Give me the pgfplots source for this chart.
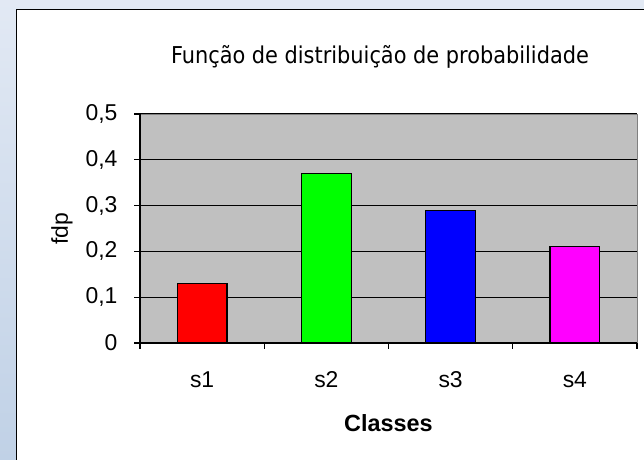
\documentclass[border=0pt]{standalone}
\usepackage{pgfplots}
\pgfplotsset{compat=1.18}
\usepackage{fontspec}
\setmainfont{Liberation Sans}
\newfontfamily\titlefont{DejaVu Sans Condensed}
\begin{document}
\begin{tikzpicture}[x=1bp,y=1bp]
\useasboundingbox (0,0) rectangle (644,460);
\shade[top color={rgb,255:red,226;green,233;blue,244}, bottom color={rgb,255:red,192;green,209;blue,230}] (0,0) rectangle (644,460);
\fill[white] (16.5,-5) rectangle (650,450.5);
\draw[black, line width=1.5bp] (16.5,-5) rectangle (650,450.5);
\begin{axis}[
  at={(140bp,117bp)}, anchor=south west,
  scale only axis, width=497bp, height=229bp,
  xmin=-0.5, xmax=3.5, ymin=0, ymax=0.5,
  axis background/.style={fill={rgb,255:red,192;green,192;blue,192}, draw={rgb,255:red,128;green,128;blue,128}},
  axis x line*=bottom, axis y line*=left,
  axis line style={black, line width=1.2bp},
  ymajorgrids, grid style={black, line width=1bp},
  ytick={0,0.1,0.2,0.3,0.4,0.5},
  yticklabels={0,{0,1},{0,2},{0,3},{0,4},{0,5}},
  xtick={-0.5,0.5,1.5,2.5,3.5},
  xticklabels={},
  extra x ticks={0,1,2,3},
  extra x tick labels={s1,s2,s3,s4},
  extra x tick style={tick style={draw=none}, xticklabel style={anchor=north, yshift=-19bp}},
  tick align=outside,
  major tick length=6bp,
  tick style={black, line width=1.2bp},
  tick label style={font=\fontsize{23}{27}\selectfont},
  yticklabel style={xshift=-13bp},
  xlabel={\textbf{Classes}},
  xlabel style={at={(axis description cs:0.5,-0.349)}, anchor=center, font=\fontsize{23.5}{27}\selectfont},
  ylabel={fdp},
  ylabel style={at={(axis description cs:-0.157,0.5)}, anchor=center, font=\fontsize{23}{27}\selectfont},
]
\addplot[ybar, bar width=0.4, bar shift=0pt, fill={rgb,255:red,255;green,0;blue,0}, draw=black, line width=1.2bp] coordinates {(0,0.13)};
\addplot[ybar, bar width=0.4, bar shift=0pt, fill={rgb,255:red,0;green,255;blue,0}, draw=black, line width=1.2bp] coordinates {(1,0.37)};
\addplot[ybar, bar width=0.4, bar shift=0pt, fill={rgb,255:red,0;green,0;blue,255}, draw=black, line width=1.2bp] coordinates {(2,0.29)};
\addplot[ybar, bar width=0.4, bar shift=0pt, fill={rgb,255:red,255;green,0;blue,255}, draw=black, line width=1.2bp] coordinates {(3,0.21)};
\end{axis}
\node[font=\titlefont\fontsize{23.3}{27}\selectfont] at (380,403) {Função de distribuição de probabilidade};
\end{tikzpicture}
\end{document}
